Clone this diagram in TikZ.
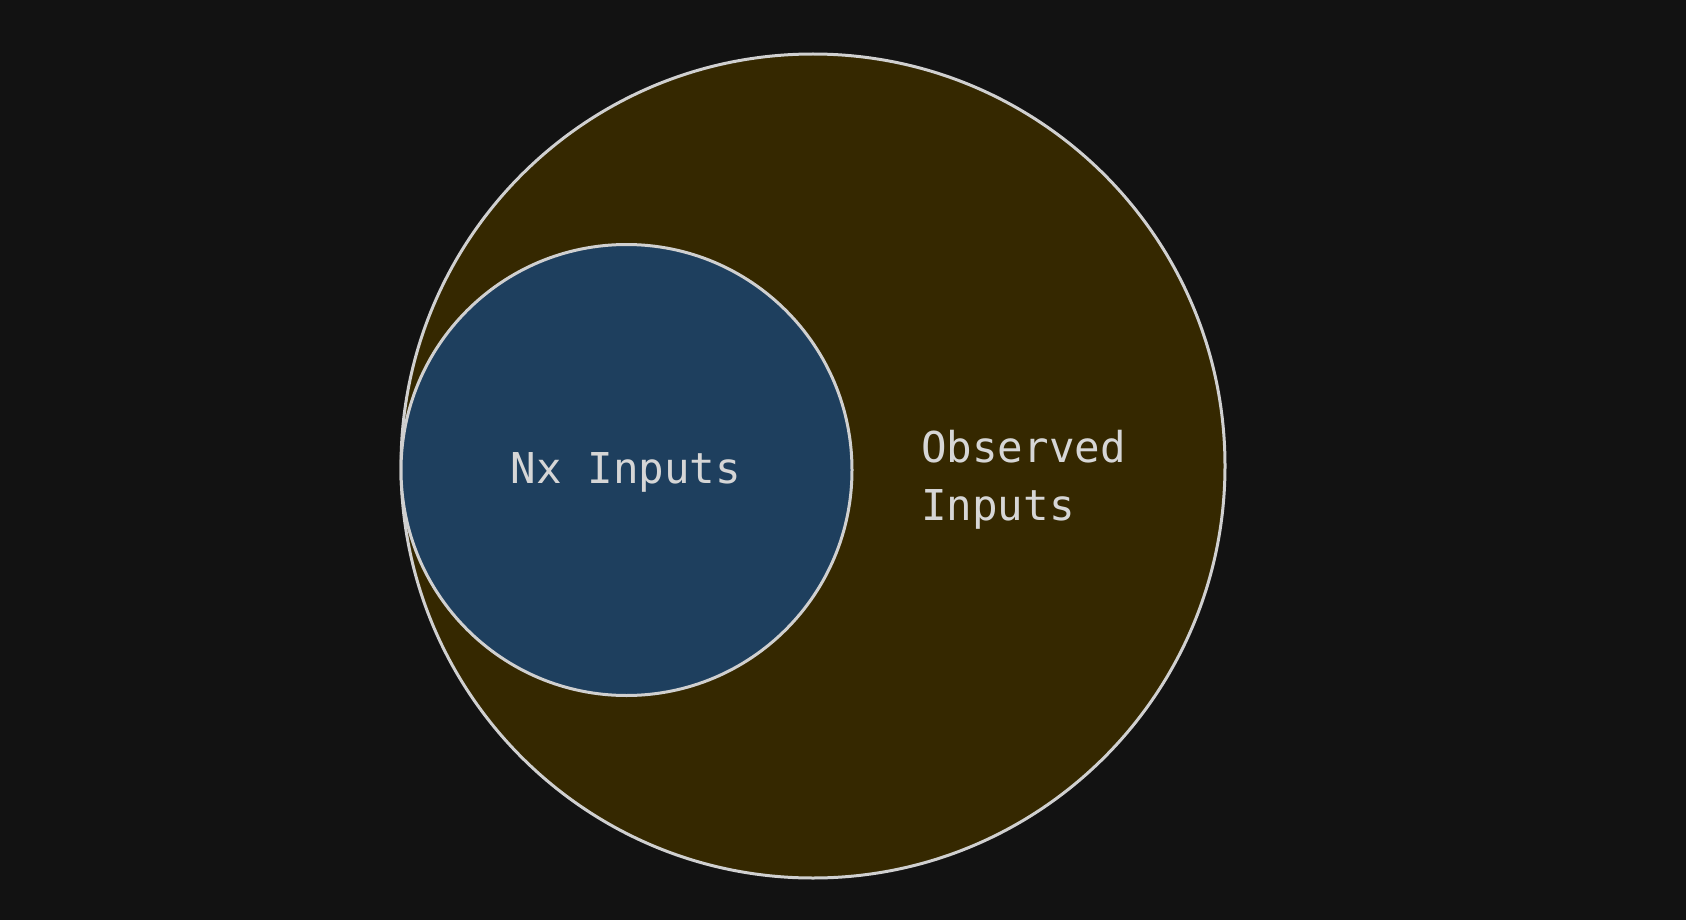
\documentclass[tikz,border=0pt]{standalone}
\usepackage{fontspec}
\setmonofont{DejaVu Sans Mono}
\definecolor{bg}{HTML}{121212}
\definecolor{obsfill}{HTML}{352800}
\definecolor{nxfill}{HTML}{1E3F5E}
\definecolor{strokec}{HTML}{D0D0D0}
\definecolor{textc}{HTML}{D6D6D6}
\begin{document}
\begin{tikzpicture}[x=1pt,y=-1pt,
  ring/.style={circle,draw=strokec,line width=3pt,inner sep=0pt},
  lbl/.style={text=textc,inner sep=0pt,font=\ttfamily\fontsize{42.5}{58}\selectfont}]
\fill[bg] (0,0) rectangle (1686,920);
\useasboundingbox (0,0) rectangle (1686,920);
\node[ring,fill=obsfill,minimum size=824pt] (obs) at (813,466) {};
\node[ring,fill=nxfill,minimum size=451pt] (nx) at (626.5,470) {};
\node[lbl,anchor=base] (nxlabel) at (626,483) {Nx Inputs};
\node[lbl,anchor=base west] (obslabel1) at (921,462) {Observed};
\node[lbl,anchor=base west] (obslabel2) at (921,520) {Inputs};
\end{tikzpicture}
\end{document}
